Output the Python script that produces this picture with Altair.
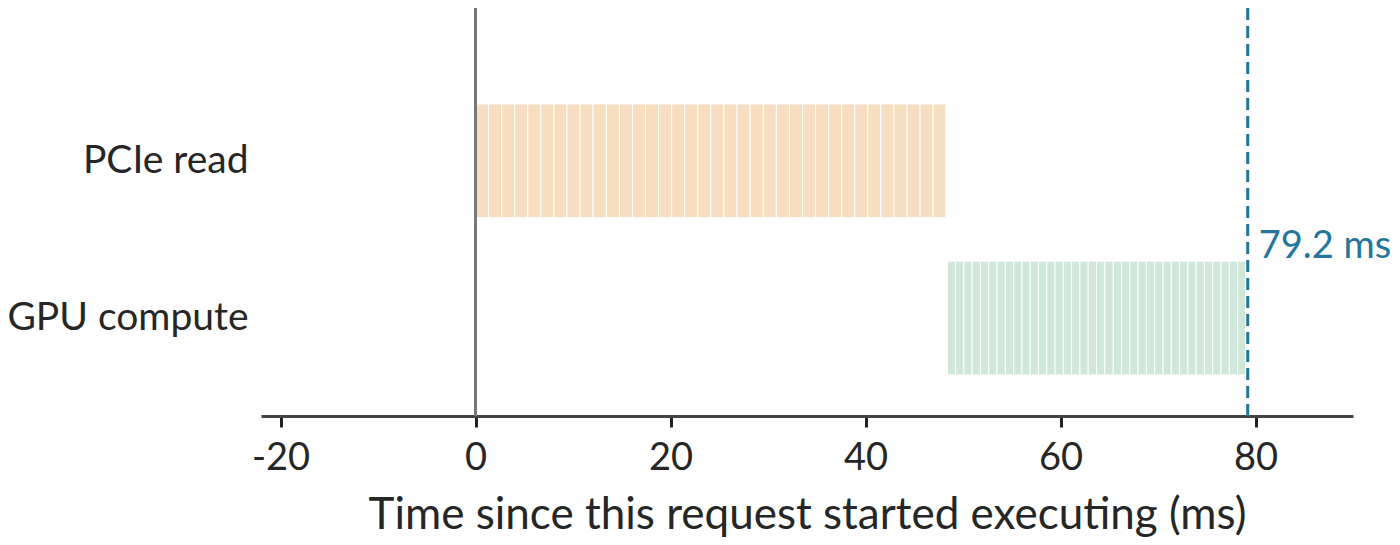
import altair as alt
import pandas as pd
import numpy as np

# ---- data ----
rows = ["PCIe read", "GPU compute"]
row_pos = [1, 0]
pcie_start = 0.0
pcie_durations = [1.34, 1.34, 1.34, 1.34, 1.34, 1.34, 1.34, 1.34, 1.34, 1.36, 1.34, 1.34,
                  1.34, 1.34, 1.34, 1.34, 1.34, 1.34, 1.34, 1.34, 1.34, 1.36, 1.34, 1.34,
                  1.34, 1.34, 1.34, 1.34, 1.34, 1.34, 1.34, 1.34, 1.34, 1.34, 1.34, 1.30]
gpu_start = 48.4
gpu_durations = [0.84, 0.85, 0.85, 0.85, 0.85, 0.85, 0.85, 0.85, 0.85, 0.85, 0.85, 0.85,
                 0.85, 0.85, 0.85, 0.85, 0.85, 0.85, 0.85, 0.87, 0.85, 0.85, 0.85, 0.85,
                 0.85, 0.85, 0.85, 0.85, 0.85, 0.85, 0.85, 0.85, 0.85, 0.85, 0.85, 0.82]
total_ms = 79.2
total_label = "79.2 ms"
x_ticks = [-20, 0, 20, 40, 60, 80]

def segs(name, pos, start, durs):
    ends = start + np.cumsum(durs)
    starts = np.concatenate([[start], ends[:-1]])
    return pd.DataFrame({"row": name, "pos": pos, "start": starts, "end": ends})

df = pd.concat([segs(rows[0], row_pos[0], pcie_start, pcie_durations),
                segs(rows[1], row_pos[1], gpu_start, gpu_durations)], ignore_index=True)

FONT = "Lato"
TXT = "#262626"
HALF = 0.362

xscale = alt.Scale(domain=[-22, 90], nice=False, zero=False)
yscale = alt.Scale(domain=[-0.6236, 1.9726], nice=False, zero=False)

bars = alt.Chart(df).mark_rect(stroke="white", strokeWidth=1).transform_calculate(
    ylo=f"datum.pos - {HALF}", yhi=f"datum.pos + {HALF}"
).encode(
    x=alt.X("start:Q", scale=xscale,
            axis=alt.Axis(values=x_ticks, title="Time since this request started executing (ms)",
                          labelExpr="datum.value < 0 ? '-' + abs(datum.value) : datum.label",
                          grid=False, domainColor="#444", domainWidth=3,
                          tickColor="#222", tickWidth=3, tickSize=11,
                          labelFontSize=38, labelColor=TXT, labelPadding=12, labelFont=FONT,
                          titleFontSize=44, titleFontWeight="normal", titleColor=TXT,
                          titleFont=FONT, titlePadding=16)),
    x2="end:Q",
    y=alt.Y("ylo:Q", scale=yscale,
            axis=alt.Axis(values=row_pos, title=None, domain=False, ticks=False, grid=False,
                          labelExpr="datum.value == 1 ? 'PCIe read' : 'GPU compute'",
                          labelLimit=400,
                          labelFontSize=39, labelColor=TXT, labelPadding=13, labelFont=FONT)),
    y2="yhi:Q",
    color=alt.Color("row:N", scale=alt.Scale(domain=rows, range=["#f8dec0", "#d0e7db"]),
                    legend=None),
)

zero = alt.Chart(pd.DataFrame({"x": [0]})).mark_rule(color="#777777", strokeWidth=3).encode(
    x=alt.X("x:Q", scale=xscale))

tot = pd.DataFrame({"x": [total_ms], "label": [total_label]})
dash = alt.Chart(tot).mark_rule(color="#23759a", strokeWidth=3, strokeDash=[12, 6]).encode(
    x=alt.X("x:Q", scale=xscale))
lab = alt.Chart(tot).mark_text(align="left", baseline="alphabetic", dx=11, dy=-60,
                               fontSize=38, color="#23759a", font=FONT).encode(
    x=alt.X("x:Q", scale=xscale), y=alt.datum(0, scale=yscale), text="label:N")

chart = alt.layer(bars, zero, dash, lab).properties(
    width=1092, height=408,
    autosize=alt.AutoSizeParams(type="none"),
    padding={"left": 253, "top": 0, "right": 39, "bottom": 121},
).configure_view(stroke=None)

chart.save("out.html", embed_options={"renderer": "svg", "actions": False})
